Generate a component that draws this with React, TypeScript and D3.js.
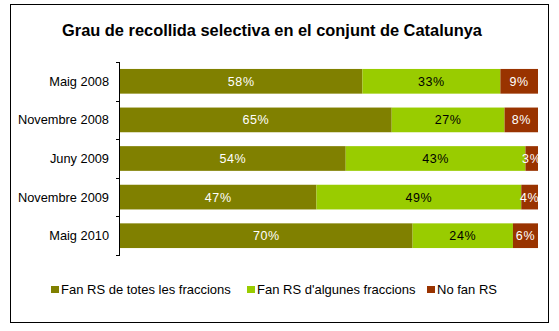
import React from "react";
import * as d3 from "d3";

const categories = ["Maig 2008", "Novembre 2008", "Juny 2009", "Novembre 2009", "Maig 2010"];
const seriesNames = ["Fan RS de totes les fraccions", "Fan RS d'algunes fraccions", "No fan RS"];
const totes = [58, 65, 54, 47, 70];
const algunes = [33, 27, 43, 49, 24];
const noFan = [9, 8, 3, 4, 6];
const colors = ["#808000", "#99CC00", "#993300"];
const labelColors = ["#ffffff", "#000000", "#ffffff"];
const title = "Grau de recollida selectiva en el conjunt de Catalunya";

const W = 559;
const H = 331;
const FONT = "'Liberation Sans', Arial, sans-serif";

export default function App() {
  const x0 = 120;
  const x1 = 538;
  const yTop = 62;
  const yBot = 255;
  const x = d3.scaleLinear().domain([0, 100]).range([x0, x1]);
  const y = d3
    .scaleBand<string>()
    .domain(categories)
    .range([yTop, yBot])
    .paddingInner(0.36)
    .paddingOuter(0.18);

  const rows = categories.map((c, i) => ({ cat: c, totes: totes[i], algunes: algunes[i], noFan: noFan[i] }));
  const stack = d3.stack<any>().keys(["totes", "algunes", "noFan"])(rows);
  const step = y.step();
  const tickYs = d3.range(categories.length + 1).map((i) => yTop + i * step);

  const legendX = [51, 247, 427];

  return (
    <svg width={W} height={H} style={{ position: "absolute", left: 0, top: 0 }} fontFamily={FONT}>
      <rect x={0} y={0} width={W} height={H} fill="#fff" />
      <rect x={10.5} y={4.5} width={538} height={318} fill="#fff" stroke="#000" strokeWidth={1} />
      <text x={272} y={36} textAnchor="middle" fontSize={16.4} fontWeight="bold" fill="#000">
        {title}
      </text>
      {stack.map((layer, si) => (
        <g key={si}>
          {layer.map((d: any, ci: number) => {
            const cat = categories[ci];
            const bx = x(d[0]);
            const bw = x(d[1]) - x(d[0]);
            const by = y(cat)!;
            const bh = y.bandwidth();
            const v = d[1] - d[0];
            return (
              <g key={ci}>
                <rect x={bx} y={by} width={bw} height={bh} fill={colors[si]} />
                <text
                  x={bx + bw / 2}
                  y={by + bh / 2 + 4.5}
                  textAnchor="middle"
                  fontSize={12.5}
                  fill={labelColors[si]}
                  letterSpacing={0.6}
                >
                  {v}%
                </text>
              </g>
            );
          })}
        </g>
      ))}
      <line x1={x0 - 0.5} x2={x0 - 0.5} y1={yTop} y2={yBot} stroke="#000" />
      {tickYs.map((t, i) => (
        <line key={i} x1={x0 - 4} x2={x0} y1={Math.round(t) + 0.5} y2={Math.round(t) + 0.5} stroke="#000" />
      ))}
      {categories.map((c) => (
        <text key={c} x={109} y={y(c)! + y.bandwidth() / 2 + 4.5} textAnchor="end" fontSize={12.8} fill="#000">
          {c}
        </text>
      ))}
      {seriesNames.map((s, i) => (
        <g key={s}>
          <rect x={legendX[i]} y={286} width={8} height={7} fill={colors[i]} />
          <text x={legendX[i] + 10} y={293.5} fontSize={13} fill="#000">
            {s}
          </text>
        </g>
      ))}
    </svg>
  );
}
